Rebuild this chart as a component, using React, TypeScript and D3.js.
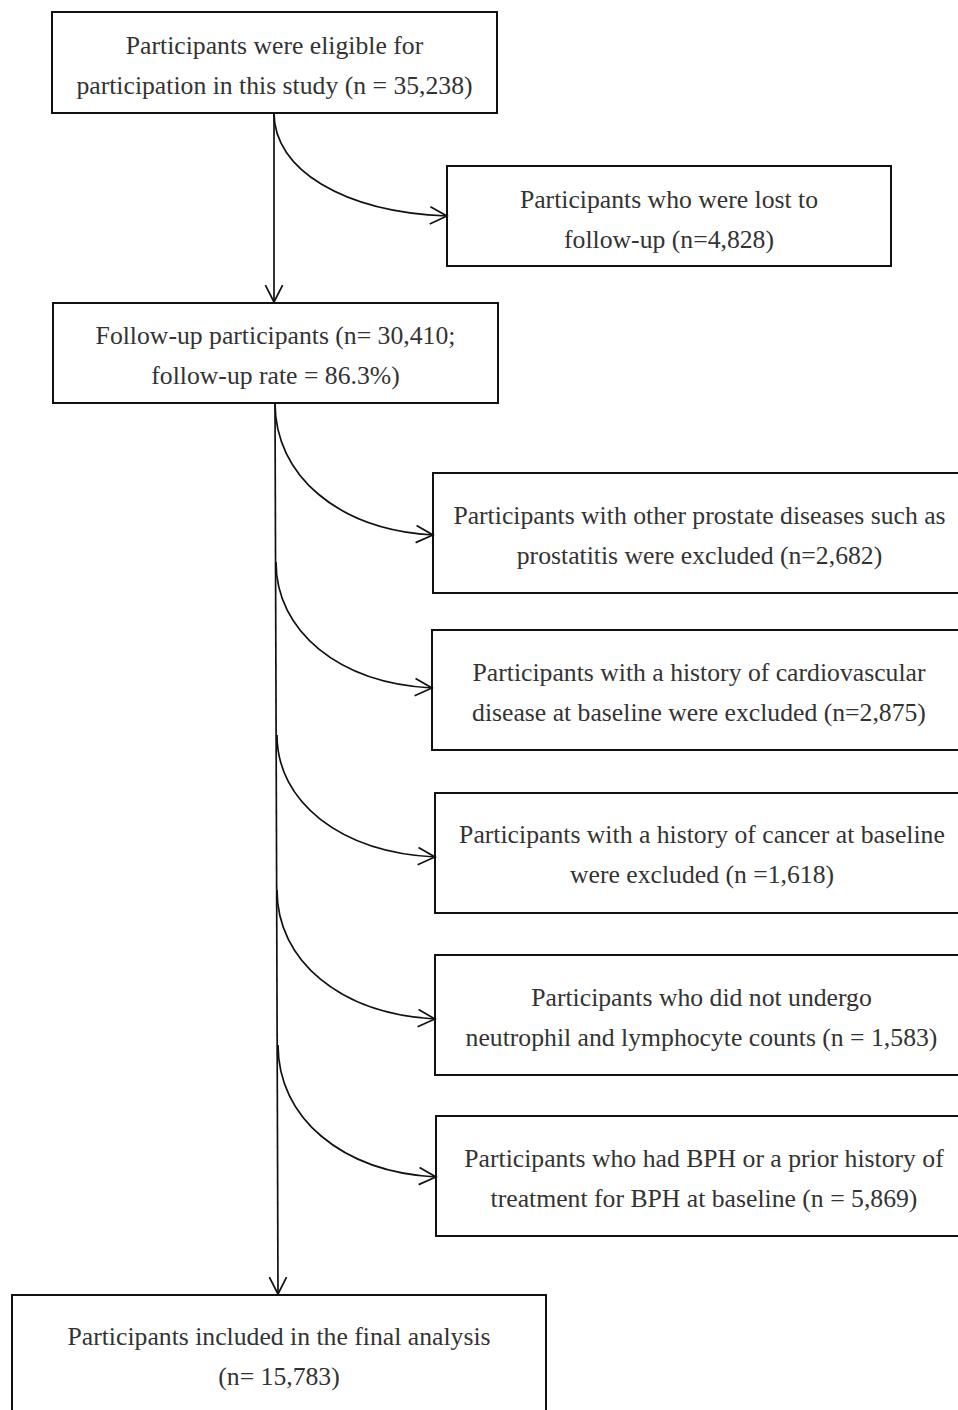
import React, { useEffect, useRef } from 'react';
import * as d3 from 'd3';

// flow chart content
const boxLabels: string[][] = [
  ['Participants were eligible for', 'participation in this study (n = 35,238)'],
  ['Participants who were lost to', 'follow-up (n=4,828)'],
  ['Follow-up participants (n= 30,410;', 'follow-up rate = 86.3%)'],
  ['Participants with other prostate diseases such as', 'prostatitis were excluded (n=2,682)'],
  ['Participants with a history of cardiovascular', 'disease at baseline were excluded (n=2,875)'],
  ['Participants with a history of cancer at baseline', 'were excluded (n =1,618)'],
  ['Participants who did not undergo', 'neutrophil and lymphocyte counts (n = 1,583)'],
  ['Participants who had BPH or a prior history of', 'treatment for BPH at baseline (n = 5,869)'],
  ['Participants included in the final analysis', '(n= 15,783)'],
];

// box geometry: x0, y0, x1, y1
const boxRects: [number, number, number, number][] = [
  [52, 12, 497, 113],
  [447, 166, 891, 266],
  [53, 303, 498, 403],
  [433, 473, 966, 593],
  [432, 630, 966, 750],
  [435, 793, 969, 913],
  [435, 955, 968, 1075],
  [436, 1116, 972, 1236],
  [12, 1295, 546, 1440],
];

// first text baseline-centre offset from box top
const textOffsets = [33, 33, 32, 42, 42, 41, 42, 42, 41];

// curved exclusion arrows: start on trunk -> arrow tip at box edge
const curves: [number, number, number, number][] = [
  [274, 113, 447, 216],
  [275, 403, 433, 535],
  [276, 562, 432, 688],
  [277, 735, 435, 857],
  [277, 890, 435, 1019],
  [278, 1045, 436, 1177],
];

// straight arrows
const straights: [number, number, number, number][] = [
  [274, 113, 274, 302],
  [275, 403, 278, 1294],
];

const App: React.FC = () => {
  const svgRef = useRef<SVGSVGElement>(null);

  useEffect(() => {
    if (!svgRef.current) return;
    const svg = d3.select(svgRef.current);
    svg.selectAll('*').remove();

    const g = svg.append('g');

    // boxes
    const box = g.selectAll('.box')
      .data(boxRects)
      .enter()
      .append('g')
      .attr('class', 'box');

    box.append('rect')
      .attr('x', d => d[0])
      .attr('y', d => d[1])
      .attr('width', d => d[2] - d[0])
      .attr('height', d => d[3] - d[1])
      .attr('fill', 'white')
      .attr('stroke', '#111')
      .attr('stroke-width', 2);

    box.each(function (d, i) {
      const cx = (d[0] + d[2]) / 2;
      const sel = d3.select(this);
      boxLabels[i].forEach((line, j) => {
        sel.append('text')
          .attr('x', cx)
          .attr('y', d[1] + textOffsets[i] + j * 40)
          .attr('dy', '0.35em')
          .attr('text-anchor', 'middle')
          .attr('font-family', '"Liberation Serif", "Times New Roman", serif')
          .attr('font-size', 25.7)
          .attr('fill', '#333')
          .text(line);
      });
    });

    const drawHead = (x: number, y: number, angle: number) => {
      const len = 19;
      const spread = 0.47;
      const p = d3.path();
      p.moveTo(x - len * Math.cos(angle - spread), y - len * Math.sin(angle - spread));
      p.lineTo(x, y);
      p.lineTo(x - len * Math.cos(angle + spread), y - len * Math.sin(angle + spread));
      g.append('path')
        .attr('d', p.toString())
        .attr('fill', 'none')
        .attr('stroke', '#111')
        .attr('stroke-width', 1.7);
    };

    straights.forEach(([x0, y0, x1, y1]) => {
      g.append('line')
        .attr('x1', x0).attr('y1', y0)
        .attr('x2', x1).attr('y2', y1)
        .attr('stroke', '#111')
        .attr('stroke-width', 1.7);
      drawHead(x1, y1, Math.atan2(y1 - y0, x1 - x0));
    });

    curves.forEach(([x0, y0, x1, y1]) => {
      const p = d3.path();
      const dx = x1 - x0;
      const dy = y1 - y0;
      p.moveTo(x0, y0);
      p.bezierCurveTo(x0, y0 + dy * 0.55, x1 - dx * 0.6, y1 - dy * 0.04, x1, y1);
      g.append('path')
        .attr('d', p.toString())
        .attr('fill', 'none')
        .attr('stroke', '#111')
        .attr('stroke-width', 1.7);
      drawHead(x1, y1, Math.atan2(dy * 0.04, dx * 0.6));
    });
  }, []);

  return (
    <svg
      ref={svgRef}
      width={958}
      height={1410}
      style={{ position: 'absolute', left: 0, top: 0, background: 'white' }}
    />
  );
};

export default App;
